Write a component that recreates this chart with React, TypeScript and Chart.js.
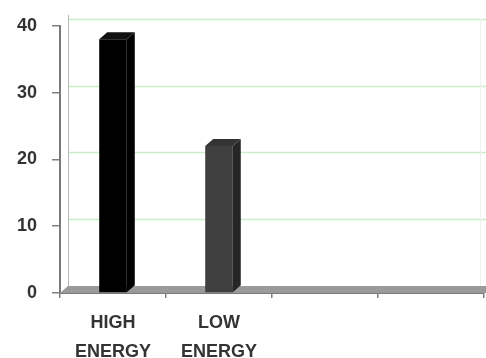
import React, { useEffect, useRef } from "react";
import { Chart, registerables } from "chart.js";

Chart.register(...registerables);

// Chart data
const categories: string[][] = [["HIGH", "ENERGY"], ["LOW", "ENERGY"], [""], [""]];
const energyValues: (number | null)[] = [38, 22, null, null];
const frontColors = ["#000000", "#3f3f3f", "#3f3f3f", "#3f3f3f"];
const sideColors = ["#000000", "#262626", "#262626", "#262626"];
const topColors = ["#111111", "#333333", "#333333", "#333333"];
const yTickValues = [0, 10, 20, 30, 40];

// Depth of the pseudo-3D walls and bars
const DX = 8;
const DY = 7;

const depthPlugin = {
  id: "depth3d",
  beforeDatasetsDraw(chart: any) {
    const { ctx, chartArea, scales } = chart;
    const { left, right, top, bottom } = chartArea;
    const y = scales.y;
    ctx.save();
    // back wall grid lines
    ctx.strokeStyle = "#c9eec9";
    ctx.lineWidth = 1.5;
    yTickValues.forEach((v) => {
      if (v === 0) return;
      const py = Math.round(y.getPixelForValue(v) - DY) + 0.5;
      ctx.beginPath();
      ctx.moveTo(left + DX, py);
      ctx.lineTo(right + 2, py);
      ctx.stroke();
    });
    // back wall edges
    ctx.strokeStyle = "#b8b8b8";
    ctx.lineWidth = 1;
    ctx.beginPath();
    ctx.moveTo(left + DX + 0.5, top - DY - 4);
    ctx.lineTo(left + DX + 0.5, bottom - DY);
    ctx.stroke();
    ctx.strokeStyle = "#f0f0f0";
    ctx.beginPath();
    ctx.moveTo(right - 4 + 0.5, top - DY);
    ctx.lineTo(right - 4 + 0.5, bottom - DY);
    ctx.stroke();
    // floor
    ctx.fillStyle = "#9a9a9a";
    ctx.beginPath();
    ctx.moveTo(left, bottom);
    ctx.lineTo(left + DX, bottom - DY);
    ctx.lineTo(right + 2, bottom - DY);
    ctx.lineTo(right + 2, bottom);
    ctx.closePath();
    ctx.fill();
    ctx.restore();
  },
  afterDatasetsDraw(chart: any) {
    const { ctx } = chart;
    const meta = chart.getDatasetMeta(0);
    ctx.save();
    meta.data.forEach((bar: any, i: number) => {
      if (energyValues[i] == null) return;
      const { x, y, base, width } = bar.getProps(["x", "y", "base", "width"], true);
      const l = x - width / 2;
      const r = x + width / 2;
      // side face
      ctx.fillStyle = sideColors[i];
      ctx.beginPath();
      ctx.moveTo(r, y);
      ctx.lineTo(r + DX, y - DY);
      ctx.lineTo(r + DX, base - DY);
      ctx.lineTo(r, base);
      ctx.closePath();
      ctx.fill();
      // top face
      ctx.fillStyle = topColors[i];
      ctx.beginPath();
      ctx.moveTo(l, y);
      ctx.lineTo(l + DX, y - DY);
      ctx.lineTo(r + DX, y - DY);
      ctx.lineTo(r, y);
      ctx.closePath();
      ctx.fill();
    });
    ctx.restore();
  },
};

export default function App() {
  const canvasRef = useRef<HTMLCanvasElement | null>(null);

  useEffect(() => {
    if (!canvasRef.current) return;
    const chart = new Chart(canvasRef.current, {
      type: "bar",
      data: {
        labels: categories,
        datasets: [
          {
            data: energyValues,
            backgroundColor: frontColors,
            borderWidth: 0,
            barPercentage: 0.52,
            categoryPercentage: 0.5,
          },
        ],
      },
      plugins: [depthPlugin],
      options: {
        responsive: false,
        animation: false,
        layout: { padding: { top: 19, right: 2, left: 0, bottom: 0 } },
        plugins: { legend: { display: false }, tooltip: { enabled: false } },
        scales: {
          x: {
            offset: true,
            grid: {
              offset: true,
              drawOnChartArea: false,
              drawTicks: true,
              tickLength: 5,
              color: "#808080",
              lineWidth: 1.5,
            },
            border: { display: true, color: "#7a7a7a", width: 2 },
            ticks: {
              color: "#333333",
              padding: 11,
              font: { family: "Liberation Sans", size: 18, weight: "bold", lineHeight: "29px" },
              maxRotation: 0,
              autoSkip: false,
            },
            afterFit(scale: any) {
              scale.height = 65;
            },
          },
          y: {
            min: 0,
            max: 40,
            ticks: {
              stepSize: 10,
              color: "#333333",
              padding: 15,
              font: { family: "Liberation Sans", size: 18, weight: "bold" },
            },
            grid: {
              drawOnChartArea: false,
              drawTicks: true,
              tickLength: 8,
              color: "#808080",
              lineWidth: 1.5,
            },
            border: { display: true, color: "#7a7a7a", width: 2 },
            afterFit(scale: any) {
              scale.width = 60;
            },
          },
        },
      },
    });
    return () => chart.destroy();
  }, []);

  return (
    <div style={{ position: "absolute", left: 0, top: 0, width: 486, height: 358, background: "#ffffff" }}>
      <canvas ref={canvasRef} width={486} height={358} style={{ display: "block" }} />
    </div>
  );
}
